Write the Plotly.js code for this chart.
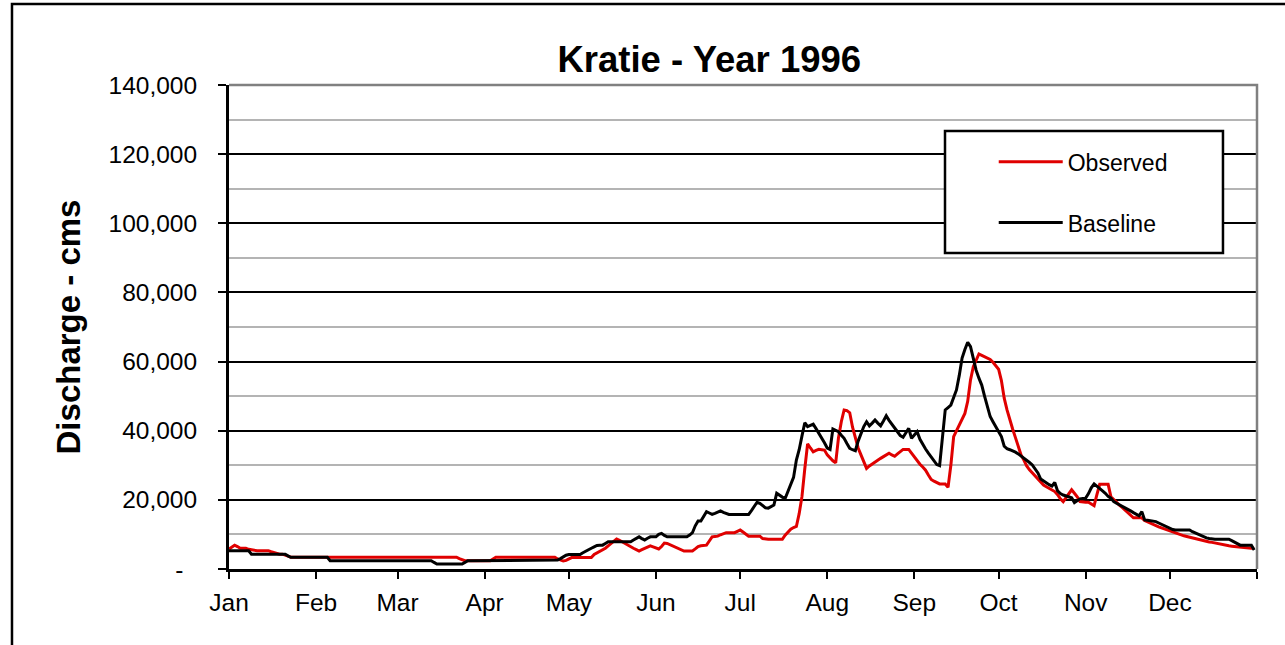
<!DOCTYPE html>
<html>
<head>
<meta charset="utf-8">
<script src="https://cdn.plot.ly/plotly-3.0.1.min.js"></script>
<style>
  html, body { margin: 0; padding: 0; background: #ffffff; }
  #chart { width: 1285px; height: 645px; }
</style>
</head>
<body>
<div id="chart"></div>
<script>
// ---- Data (daily discharge, cms) : Kratie 1996 ----
const startDate = '1996-01-01';
const seriesNames = ['Observed', 'Baseline'];
const monthLabels = ['Jan','Feb','Mar','Apr','May','Jun','Jul','Aug','Sep','Oct','Nov','Dec',''];
const monthStarts = ['1996-01-01','1996-02-01','1996-03-01','1996-04-01','1996-05-01','1996-06-01',
  '1996-07-01','1996-08-01','1996-09-01','1996-10-01','1996-11-01','1996-12-01','1997-01-01'];
const yTickValues = [0, 20000, 40000, 60000, 80000, 100000, 120000, 140000];
const yTickLabels = ['-\u00a0\u00a0', '20,000', '40,000', '60,000', '80,000', '100,000', '120,000', '140,000'];

const observed = [
  // Jan
  5800,6400,6900,6500,6000,6000,6000,5700,5500,5300,5300,5300,5300,5300,5300,5000,4700,4500,4300,4300,4100,3700,3400,3400,3400,3400,3400,3400,3400,3400,3400,
  // Feb
  3400,3400,3400,3400,3400,3400,3400,3400,3400,3400,3400,3400,3400,3400,3400,3400,3400,3400,3400,3400,3400,3400,3400,3400,3400,3400,3400,3400,3400,
  // Mar
  3400,3400,3400,3400,3400,3400,3400,3400,3400,3400,3400,3400,3400,3400,3400,3400,3400,3400,3400,3400,3400,3400,3000,2600,2400,2400,2400,2400,2400,2400,2400,
  // Apr
  2400,2400,2400,2900,3400,3400,3400,3400,3400,3400,3400,3400,3400,3400,3400,3400,3400,3400,3400,3400,3400,3400,3400,3400,3400,3400,2900,2600,2300,2500,
  // May
  2900,3300,3300,3300,3300,3300,3300,3300,3300,4200,4600,5100,5500,6000,6700,7400,8100,8700,8300,7800,7400,7000,6500,6000,5600,5200,5600,6000,6400,6700,6400,
  // Jun
  6000,5800,6500,7500,7400,7000,6700,6300,5900,5500,5200,5200,5200,5200,5800,6500,6700,6800,6900,8100,9300,9400,9500,9900,10300,10500,10500,10500,10500,10900,
  // Jul
  11300,10700,10100,9500,9500,9500,9500,9500,8800,8600,8600,8600,8600,8600,8600,8600,9800,10800,11500,12000,12300,16000,21000,29000,36200,35000,33900,34300,34600,34500,34400,
  // Aug
  33000,32000,31300,30700,38000,42600,46000,45800,45200,41000,37800,35000,33000,31000,29100,29800,30400,30900,31500,32000,32500,33000,33500,33000,32600,33300,34000,34600,34600,34600,33500,
  // Sep
  32400,31200,30300,29500,28600,27200,25900,25400,25000,24600,24600,24600,23600,30000,38300,40000,41400,43000,45000,48500,54700,58500,60500,62200,61800,61400,61000,60600,59800,58800,
  // Oct
  57800,54500,49400,46000,43000,40500,38000,35500,33000,31500,29800,28700,27800,26800,25800,25000,24300,23800,23300,22800,22400,21500,20300,19500,20700,21800,22900,21900,20900,19500,19300,
  // Nov
  19300,19300,18800,18300,21500,24500,24500,24500,24500,20900,20000,19200,18500,17800,17100,16300,15600,14800,14800,14800,14800,14000,13600,13300,13000,12600,12200,11900,11600,11300,
  // Dec
  11000,10600,10300,10100,9900,9600,9400,9200,8900,8700,8400,8300,8100,8000,7800,7700,7500,7300,7100,6900,6800,6700,6600,6500,6300,6200,6100,6000,6000,6000,6000
];

const baseline = [
  // Jan
  5300,5300,5300,5300,5300,5300,5300,5300,4300,4300,4300,4300,4300,4300,4300,4300,4300,4300,4300,4300,4300,3800,3400,3400,3400,3400,3400,3400,3400,3400,3400,
  // Feb
  3400,3400,3400,3400,3400,2400,2400,2400,2400,2400,2400,2400,2400,2400,2400,2400,2400,2400,2400,2400,2400,2400,2400,2400,2400,2400,2400,2400,2400,
  // Mar
  2400,2400,2400,2400,2400,2400,2400,2400,2400,2400,2400,2400,2400,1900,1450,1450,1450,1450,1450,1450,1450,1450,1450,1450,1900,2400,2400,2400,2400,2400,2400,
  // Apr
  2400,2400,2400,2400,2400,2400,2400,2400,2400,2400,2400,2400,2400,2400,2400,2400,2400,2400,2400,2400,2400,2400,2400,2400,2400,2400,2600,3000,3500,4000,
  // May
  4200,4200,4200,4200,4200,4700,5200,5600,6000,6400,6800,6900,6900,7400,7900,7900,7900,7900,7900,7900,7900,7900,7900,8400,8900,9300,8800,8400,8900,9300,9300,
  // Jun
  9300,10000,10300,9700,9300,9300,9300,9300,9300,9300,9300,9300,9800,10500,12500,13900,13900,15200,16600,16200,15800,16100,16400,16800,16400,16000,15800,15800,15800,15800,
  // Jul
  15800,15800,15800,15800,16900,18000,19300,19000,18300,17700,17600,18000,18500,21900,21300,20800,20400,22600,24800,26500,31500,34500,38500,42300,41200,41500,41900,40600,39300,38000,36500,
  // Aug
  35000,34600,40500,40200,39700,38700,37800,36300,34900,34500,34200,37000,39000,41200,42600,41400,42200,43100,42200,41400,42800,44300,43000,41800,40800,39700,38600,38100,39400,40700,37800,
  // Sep
  38800,39700,37500,35900,34700,33500,32300,31200,30200,29900,38000,46000,46700,47400,49600,51800,56000,61000,63500,65600,64300,60500,57500,55200,53200,50000,47000,44100,42600,41200,
  // Oct
  39800,38300,35500,34800,34500,34200,33800,33300,32700,32200,31500,30800,30100,29000,27800,26000,25400,24900,24400,24000,25000,22600,21800,21400,21100,21000,20600,19200,19800,20300,20400,
  // Nov
  20500,21800,23500,24600,24000,23400,22600,21900,21000,20500,19500,19000,18600,18100,17600,17200,16800,16300,15900,15400,16600,14200,14100,14000,13800,13700,13300,12900,12500,12100,
  // Dec
  11800,11400,11300,11300,11300,11300,11300,11300,10800,10400,10000,9600,9300,9000,8800,8600,8600,8600,8600,8600,8600,8600,8200,7700,7200,6900,6900,6900,6900,6900,5500
];

// dates for each daily value
const dates = [];
{
  const d0 = new Date(startDate + 'T00:00:00Z');
  for (let i = 0; i < observed.length; i++) {
    const d = new Date(d0.getTime() + i * 86400000);
    dates.push(d.toISOString().slice(0, 10));
  }
}

const FONT = 'Liberation Sans, Arial, sans-serif';

const traces = [
  { x: dates, y: observed, name: seriesNames[0], type: 'scatter', mode: 'lines',
    line: { color: 'rgb(224,0,0)', width: 3 }, legendgroup: 'a' },
  { x: dates, y: baseline, name: seriesNames[1], type: 'scatter', mode: 'lines',
    line: { color: '#000000', width: 3 }, legendgroup: 'b' }
];

const layout = {
  width: 1285, height: 645,
  margin: { l: 229, r: 28, t: 85, b: 76, pad: 0 },
  paper_bgcolor: '#ffffff', plot_bgcolor: '#ffffff',
  font: { family: FONT, color: '#000000' },
  title: { text: '<b>Kratie - Year 1996</b>', font: { family: FONT, size: 36.5, color: '#000' },
           xref: 'container', yref: 'container', x: 0.552, y: 0.908, xanchor: 'center', yanchor: 'middle' },
  showlegend: true,
  legend: { x: 0.7439, y: 0.886, xanchor: 'left', yanchor: 'top', bgcolor: 'rgba(0,0,0,0)',
            borderwidth: 0, font: { family: FONT, size: 23, color: '#000' },
            itemwidth: 64, tracegroupgap: 28, traceorder: 'grouped' },
  xaxis: {
    type: 'date', range: ['1996-01-01', '1997-01-01'],
    tickmode: 'array', tickvals: monthStarts, ticktext: monthLabels,
    ticks: 'outside', ticklen: 7, tickwidth: 2, tickcolor: '#000',
    showline: true, linecolor: '#000', linewidth: 3,
    showgrid: false, zeroline: false,
    tickfont: { family: FONT, size: 24.5, color: '#000' },
    ticklabelstandoff: 3, fixedrange: true
  },
  yaxis: {
    range: [0, 140000],
    tickmode: 'array', tickvals: yTickValues, ticktext: yTickLabels,
    ticks: 'outside', ticklen: 8, tickwidth: 2, tickcolor: '#000',
    showline: true, linecolor: '#000', linewidth: 3,
    showgrid: true, gridcolor: '#000', gridwidth: 2,
    minor: { dtick: 10000, tick0: 0, showgrid: true, gridcolor: '#b4b4b4', gridwidth: 2, ticks: '' },
    zeroline: false,
    tickfont: { family: FONT, size: 24.5, color: '#000' },
    ticklabelstandoff: 16,
    title: { text: '<b>Discharge - cms</b>', font: { family: FONT, size: 33, color: '#000' }, standoff: 18 },
    fixedrange: true
  },
  shapes: [
    // plot area top/right border (grey)
    { type: 'path', xref: 'paper', yref: 'paper', path: 'M 0 1 L 1 1 L 1 0',
      line: { color: '#808080', width: 2.5 }, layer: 'above' },
    // legend box
    { type: 'rect', xref: 'paper', yref: 'paper', x0: 0.6965, x1: 0.9669, y0: 0.6529, y1: 0.905,
      fillcolor: '#ffffff', line: { color: '#000', width: 2.5 }, layer: 'above' },
    // outer chart border
    { type: 'rect', xref: 'paper', yref: 'paper', x0: -0.2111, x1: 1.1, y0: -0.3, y1: 1.1674,
      fillcolor: 'rgba(0,0,0,0)', line: { color: '#000', width: 2.5 }, layer: 'above' }
  ]
};

Plotly.newPlot('chart', traces, layout, { displayModeBar: false, staticPlot: true });
</script>
</body>
</html>
